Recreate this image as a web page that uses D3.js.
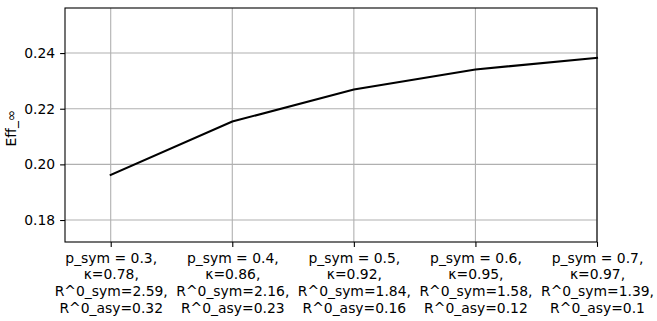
<!DOCTYPE html>
<html>
<head>
<meta charset="utf-8">
<script src="https://cdn.jsdelivr.net/npm/d3@7"></script>
<style>
  body { margin: 0; background: #fff; }
  svg text { font-family: "DejaVu Sans", sans-serif; font-size: 13.9px; fill: #000; }
</style>
</head>
<body>
<div id="chart"></div>
<script>
// categories (tick labels, one array of lines per tick)
var categories = [
  ["p_sym = 0.3,", "\u03ba=0.78,", "R^0_sym=2.59,", "R^0_asy=0.32"],
  ["p_sym = 0.4,", "\u03ba=0.86,", "R^0_sym=2.16,", "R^0_asy=0.23"],
  ["p_sym = 0.5,", "\u03ba=0.92,", "R^0_sym=1.84,", "R^0_asy=0.16"],
  ["p_sym = 0.6,", "\u03ba=0.95,", "R^0_sym=1.58,", "R^0_asy=0.12"],
  ["p_sym = 0.7,", "\u03ba=0.97,", "R^0_sym=1.39,", "R^0_asy=0.1"]
];
var effValues = [0.1962, 0.2154, 0.2269, 0.2341, 0.2383];
var yTicks = [0.18, 0.20, 0.22, 0.24];

var W = 657, H = 321;
var margin = {top: 8, right: 60, bottom: 79, left: 65};
var w = W - margin.left - margin.right;
var h = H - margin.top - margin.bottom;

var svg = d3.select("#chart").append("svg")
  .attr("width", W).attr("height", H);
var g = svg.append("g")
  .attr("transform", "translate(" + margin.left + "," + margin.top + ")");

var x = d3.scaleLinear().domain([-0.376, 4]).range([0, w]);
var y = d3.scaleLinear().domain([0.1721, 0.2562]).range([h, 0]);

// grid
g.append("g").selectAll("line").data(d3.range(categories.length)).enter()
  .append("line")
  .attr("x1", function(d) { return x(d); }).attr("x2", function(d) { return x(d); })
  .attr("y1", 0).attr("y2", h)
  .attr("stroke", "#b0b0b0").attr("stroke-width", 1.1);
g.append("g").selectAll("line").data(yTicks).enter()
  .append("line")
  .attr("x1", 0).attr("x2", w)
  .attr("y1", function(d) { return y(d); }).attr("y2", function(d) { return y(d); })
  .attr("stroke", "#b0b0b0").attr("stroke-width", 1.1);

// y axis
var yAxis = d3.axisLeft(y).tickValues(yTicks).tickFormat(d3.format(".2f"))
  .tickSize(4.9).tickPadding(4.9);
var ya = g.append("g").call(yAxis);
ya.select(".domain").remove();
ya.selectAll("line").attr("stroke", "#000").attr("stroke-width", 1.1);
ya.selectAll("text").style("font-size", "13.9px").style("font-family", "DejaVu Sans");

// x axis
var xAxis = d3.axisBottom(x).tickValues(d3.range(categories.length))
  .tickSize(4.9).tickFormat("");
var xa = g.append("g").attr("transform", "translate(0," + h + ")").call(xAxis);
xa.select(".domain").remove();
xa.selectAll("line").attr("stroke", "#000").attr("stroke-width", 1.1);
xa.selectAll(".tick").each(function(d) {
  var t = d3.select(this).append("text")
    .attr("text-anchor", "middle")
    .attr("fill", "#000")
    .style("font-size", "13.9px").style("font-family", "DejaVu Sans")
    .attr("y", 10.8);
  categories[d].forEach(function(line, i) {
    t.append("tspan").attr("x", 0).attr("dy", i === 0 ? "0.71em" : "16.7px").text(line);
  });
});

// line
var line = d3.line()
  .x(function(d, i) { return x(i); })
  .y(function(d) { return y(d); });
g.append("path").datum(effValues)
  .attr("d", line)
  .attr("fill", "none")
  .attr("stroke", "#000")
  .attr("stroke-width", 2.1)
  .attr("stroke-linecap", "square");

// frame
g.append("rect").attr("x", 0).attr("y", 0).attr("width", w).attr("height", h)
  .attr("fill", "none").attr("stroke", "#000").attr("stroke-width", 1.1);

// y label
svg.append("text")
  .attr("transform", "translate(16," + (margin.top + h / 2 + 3) + ") rotate(-90)")
  .attr("text-anchor", "middle")
  .text("Eff_\u221e");
</script>
</body>
</html>
